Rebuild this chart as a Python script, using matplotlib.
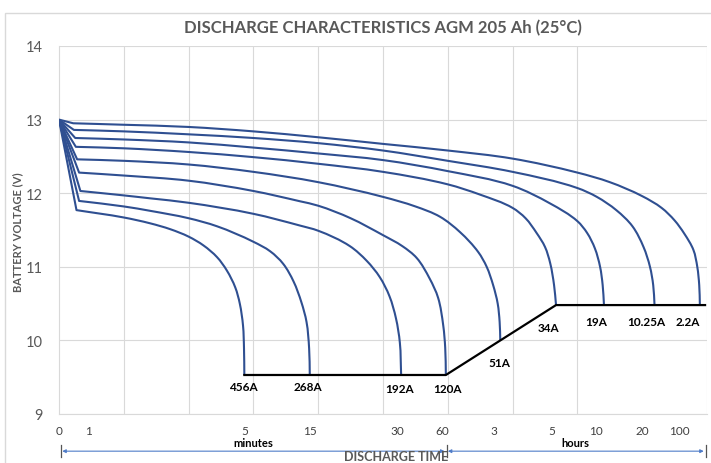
import matplotlib
matplotlib.use("Agg")
import matplotlib.pyplot as plt
import numpy as np
from matplotlib.patches import Rectangle, PathPatch
from matplotlib.path import Path

plt.rcParams['font.family'] = ['Lato', 'DejaVu Sans']

# time runs on the chart's own grid (0..10), not on a real time scale
t_456 = [0, 0.27, 1.0, 1.41, 1.72, 2.0, 2.23, 2.44, 2.59, 2.72, 2.79, 2.84, 2.855, 2.86]
v_456 = [13.0, 11.77, 11.67, 11.59, 11.51, 11.41, 11.29, 11.13, 10.95, 10.72, 10.5, 10.2, 9.89, 9.53]

t_268 = [0, 0.31, 1.0, 1.41, 2.0, 2.44, 3.0, 3.26, 3.46, 3.62, 3.74, 3.82, 3.86, 3.87]
v_268 = [13.0, 11.895, 11.82, 11.76, 11.66, 11.55, 11.34, 11.21, 11.04, 10.8, 10.52, 10.25, 9.89, 9.53]

t_192 = [0, 0.33, 1.0, 1.41, 2.0, 3.0, 3.72, 4.0, 4.49, 4.75, 4.95, 5.1, 5.2, 5.26, 5.28]
v_192 = [13.0, 12.03, 11.97, 11.93, 11.87, 11.72, 11.56, 11.49, 11.28, 11.08, 10.86, 10.6, 10.3, 9.97, 9.53]

t_120 = [0, 0.31, 1.0, 2.0, 3.0, 3.72, 4.0, 4.5, 5.0, 5.3, 5.52, 5.72, 5.85, 5.93, 5.96, 5.97]
v_120 = [13.0, 12.28, 12.24, 12.17, 12.03, 11.89, 11.83, 11.66, 11.43, 11.28, 11.12, 10.84, 10.58, 10.2, 9.9, 9.53]

t_51 = [0, 0.28, 1.0, 2.0, 3.0, 4.0, 5.0, 5.5, 5.88, 6.19, 6.47, 6.6, 6.7, 6.77, 6.8, 6.81]
v_51 = [13.0, 12.46, 12.44, 12.39, 12.29, 12.15, 11.95, 11.82, 11.68, 11.47, 11.2, 11.0, 10.75, 10.5, 10.25, 10.0]

t_34 = [0, 0.26, 1.0, 2.0, 3.0, 4.0, 5.0, 6.0, 6.5, 7.0, 7.2, 7.37, 7.5, 7.58, 7.64, 7.67]
v_34 = [13.0, 12.63, 12.61, 12.56, 12.49, 12.4, 12.29, 12.12, 11.98, 11.8, 11.66, 11.46, 11.27, 11.05, 10.75, 10.48]

t_19 = [0, 0.25, 1.0, 2.0, 3.0, 4.0, 5.0, 6.0, 7.0, 7.58, 8.0, 8.15, 8.27, 8.35, 8.39, 8.41]
v_19 = [13.0, 12.75, 12.73, 12.69, 12.62, 12.54, 12.45, 12.3, 12.1, 11.86, 11.62, 11.46, 11.25, 11.0, 10.75, 10.48]

t_1025 = [0, 0.23, 1.0, 2.0, 3.0, 4.0, 5.0, 6.0, 7.0, 8.0, 8.3, 8.6, 8.85, 9.02, 9.12, 9.17, 9.19]
v_1025 = [13.0, 12.86, 12.84, 12.8, 12.75, 12.68, 12.58, 12.44, 12.29, 12.07, 11.95, 11.77, 11.55, 11.27, 11.0, 10.75, 10.48]

t_22 = [0, 0.22, 1.0, 2.0, 3.0, 4.0, 5.0, 6.0, 7.0, 8.0, 8.5, 9.0, 9.3, 9.5, 9.65, 9.79, 9.85, 9.88, 9.89]
v_22 = [13.0, 12.95, 12.93, 12.9, 12.84, 12.76, 12.67, 12.58, 12.47, 12.28, 12.15, 11.96, 11.8, 11.63, 11.45, 11.23, 11.0, 10.75, 10.48]

currents = ["456A", "268A", "192A", "120A", "51A", "34A", "19A", "10.25A", "2.2A"]
times = [t_456, t_268, t_192, t_120, t_51, t_34, t_19, t_1025, t_22]
volts = [v_456, v_268, v_192, v_120, v_51, v_34, v_19, v_1025, v_22]

# end-of-discharge line
cutoff_t = [2.86, 5.97, 7.67, 9.97]
cutoff_v = [9.53, 9.53, 10.48, 10.48]

# time axis labels (minutes, then hours) and where they sit on the grid
time_labels = ["0", "1", "5", "15", "30", "60", "3", "5", "10", "20", "100"]
time_label_pos = [0.0, 0.45, 2.87, 3.87, 5.22, 5.91, 6.71, 7.61, 8.29, 9.0, 9.58]

# label offsets from each curve end (dx, dv)
label_offsets = [(-0.01, -0.15), (-0.03, -0.15), (-0.02, -0.19), (0.02, -0.19),
                 (-0.02, -0.3), (-0.11, -0.3), (-0.12, -0.23), (-0.12, -0.23),
                 (-0.18, -0.23)]

BLUE = "#2F4F91"
GRAY = "#595959"
GRID = "#D9D9D9"

# rough pixels per grid unit, only used to make the smoothing isotropic
PX_T, PX_V = 64.8, 73.5


def curve_path(t, v):
    """Straight drop to the knee, then a smoothed Bezier line like Excel's"""
    p = np.column_stack([np.asarray(t, float) * PX_T, np.asarray(v, float) * PX_V])
    seg = np.diff(p, axis=0)
    length = np.hypot(seg[:, 0], seg[:, 1])
    unit = seg / length[:, None]

    # tangent direction at each point from the knee on
    tang = np.zeros_like(p)
    tang[1] = unit[1]
    tang[-1] = unit[-1]
    for k in range(2, len(p) - 1):
        d = unit[k - 1] + unit[k]
        tang[k] = d / np.hypot(*d)

    verts = [p[0], p[1]]
    codes = [Path.MOVETO, Path.LINETO]
    for i in range(1, len(p) - 1):
        L = length[i] / 3
        verts += [p[i] + tang[i] * L, p[i + 1] - tang[i + 1] * L, p[i + 1]]
        codes += [Path.CURVE4] * 3
    verts = np.array(verts) / [PX_T, PX_V]
    return Path(verts, codes)


fig = plt.figure(figsize=(7.11, 4.64), dpi=100)
ax = fig.add_axes([59 / 711, 49 / 464, 648 / 711, 368 / 464])

fig.add_artist(Rectangle((4.5 / 711, -0.1), 1.2, 0.9707 + 0.1,
                         transform=fig.transFigure, fill=False,
                         edgecolor=GRID, lw=1.0))

for name, t, v in zip(currents, times, volts):
    ax.add_patch(PathPatch(curve_path(t, v), fill=False, edgecolor=BLUE,
                           lw=1.5, joinstyle="round", zorder=3))

ax.plot(cutoff_t, cutoff_v, color="black", lw=1.6, zorder=4)

for name, t, v, (dx, dv) in zip(currents, times, volts, label_offsets):
    ax.text(t[-1] + dx, v[-1] + dv, name, ha="center", va="center",
            fontsize=8.5, fontweight="bold", color="black", zorder=5)

ax.set_xlim(0, 10)
ax.set_ylim(9, 14)
ax.set_xticks(range(11), minor=True)
ax.set_xticks(time_label_pos, time_labels)
ax.set_yticks(range(9, 15))
ax.grid(which="minor", axis="x", color=GRID, lw=0.8)
ax.grid(which="major", axis="y", color=GRID, lw=0.8)
ax.tick_params(axis="x", which="both", length=0, pad=8, labelsize=8.5,
               labelcolor="#404040")
ax.tick_params(axis="y", length=0, pad=12, labelsize=10.5, labelcolor=GRAY)
for side in ["top", "right"]:
    ax.spines[side].set_visible(False)
ax.spines["left"].set_color(GRID)
ax.spines["bottom"].set_color(GRID)

ax.set_title("DISCHARGE CHARACTERISTICS AGM 205 Ah (25°C)", fontsize=12,
             fontweight="bold", color=GRAY, pad=10)
fig.text(18 / 711, 1 - 232 / 464, "BATTERY VOLTAGE (V)", rotation=90,
         ha="center", va="center", fontsize=8, fontweight="bold", color=GRAY)

# minutes / hours brackets under the axis
arrow_y = -0.101
for x0, x1, label in [(0.05, 5.95, "minutes"), (6.0, 9.95, "hours")]:
    ax.annotate("", xy=(x1, arrow_y), xytext=(x0, arrow_y),
                xycoords=("data", "axes fraction"),
                arrowprops=dict(arrowstyle="<|-|>", color="#4F7CC8", lw=0.8,
                                mutation_scale=5, shrinkA=0, shrinkB=0),
                annotation_clip=False)
    ax.text((x0 + x1) / 2, -0.078, label, transform=ax.get_xaxis_transform(),
            ha="center", va="center", fontsize=8, fontweight="bold")
for xb in [0.03, 5.98, 9.98]:
    ax.plot([xb, xb], [-0.117, -0.085], transform=ax.get_xaxis_transform(),
            color="#555555", lw=0.9, clip_on=False)

fig.text(396 / 711, 1 / 464, "DISCHARGE TIME", ha="center", va="bottom",
         fontsize=9, fontweight="bold", color=GRAY)

fig.savefig("out.png", dpi=100)
